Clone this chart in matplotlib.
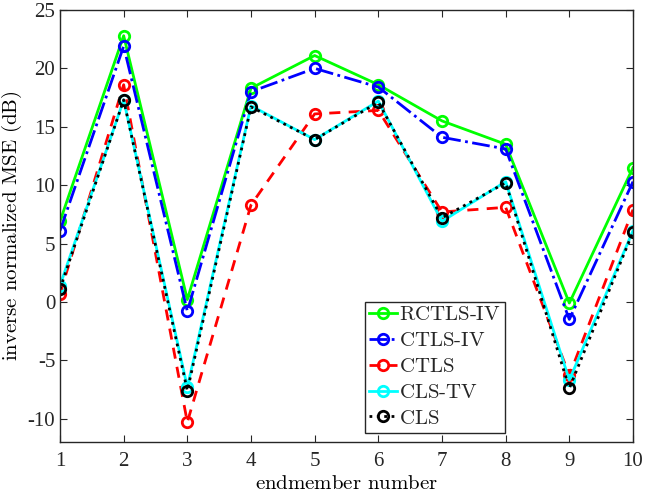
import numpy as np
import matplotlib.pyplot as plt

plt.rcParams['font.family'] = ['Liberation Serif', 'DejaVu Serif']
plt.rcParams['mathtext.fontset'] = 'cm'
plt.rcParams['axes.unicode_minus'] = False
plt.rcParams['text.color'] = '#262626'

# endmember index and per-method inverse normalized MSE (dB)
endmembers = np.arange(1, 11)
rctls_iv = [6.9, 22.8, 0.2, 18.3, 21.1, 18.6, 15.5, 13.5, -0.1, 11.5]
ctls_iv = [6.1, 21.9, -0.8, 18.0, 20.0, 18.4, 14.1, 13.1, -1.5, 10.3]
ctls = [0.7, 18.6, -10.3, 8.3, 16.1, 16.4, 7.7, 8.1, -6.3, 7.9]
cls_tv = [1.4, 17.3, -7.3, 16.8, 13.9, 17.2, 6.9, 10.3, -6.7, 6.1]
cls = [1.1, 17.3, -7.6, 16.7, 13.9, 17.1, 7.2, 10.2, -7.4, 6.0]

fig = plt.figure(figsize=(6.45, 5.0), dpi=100)
ax = fig.add_axes([60/645, 58/500, 573/645, 432/500])

mk = dict(marker='o', markersize=7.5, markerfacecolor='none', markeredgewidth=2, linewidth=2)
ax.plot(endmembers, rctls_iv, '-', color='#00ff00', label=r'$\text{RCTLS-IV}$', **mk)
ax.plot(endmembers, ctls_iv, '-.', color='#0000ff', label=r'$\text{CTLS-IV}$', **mk)
ax.plot(endmembers, ctls, '--', color='#ff0000', label=r'$\text{CTLS}$', dashes=(4, 3), **mk)
ax.plot(endmembers, cls_tv, '-', color='#00ffff', label=r'$\text{CLS-TV}$', **mk)
ax.plot(endmembers, cls, ':', color='black', label=r'$\text{CLS}$', **mk)

ax.set_xlim(1, 10)
ax.set_ylim(-12, 25)
ax.set_xticks(endmembers)
ax.set_yticks(np.arange(-10, 26, 5))
ax.tick_params(direction='in', top=True, right=True, labelsize=15, length=5,
               color='#262626', labelcolor='#262626')
ax.tick_params(axis='x', pad=7)
for s in ax.spines.values():
    s.set_color('#262626')
    s.set_linewidth(1)

ax.set_xlabel(r'$\text{endmember number}$', fontsize=15, labelpad=3)
ax.set_ylabel(r'$\text{inverse normalized MSE (dB)}$', fontsize=15)
ax.yaxis.set_label_coords(-0.062, 0.5)

leg = ax.legend(loc='lower left', bbox_to_anchor=(0.532, 0.021), borderaxespad=0,
                fontsize=15, handlelength=1.35, handletextpad=0.1, borderpad=0.2,
                labelspacing=0.3, fancybox=False, framealpha=1, edgecolor='#262626')
leg.get_frame().set_linewidth(1)

fig.savefig('out.png', dpi=100)
